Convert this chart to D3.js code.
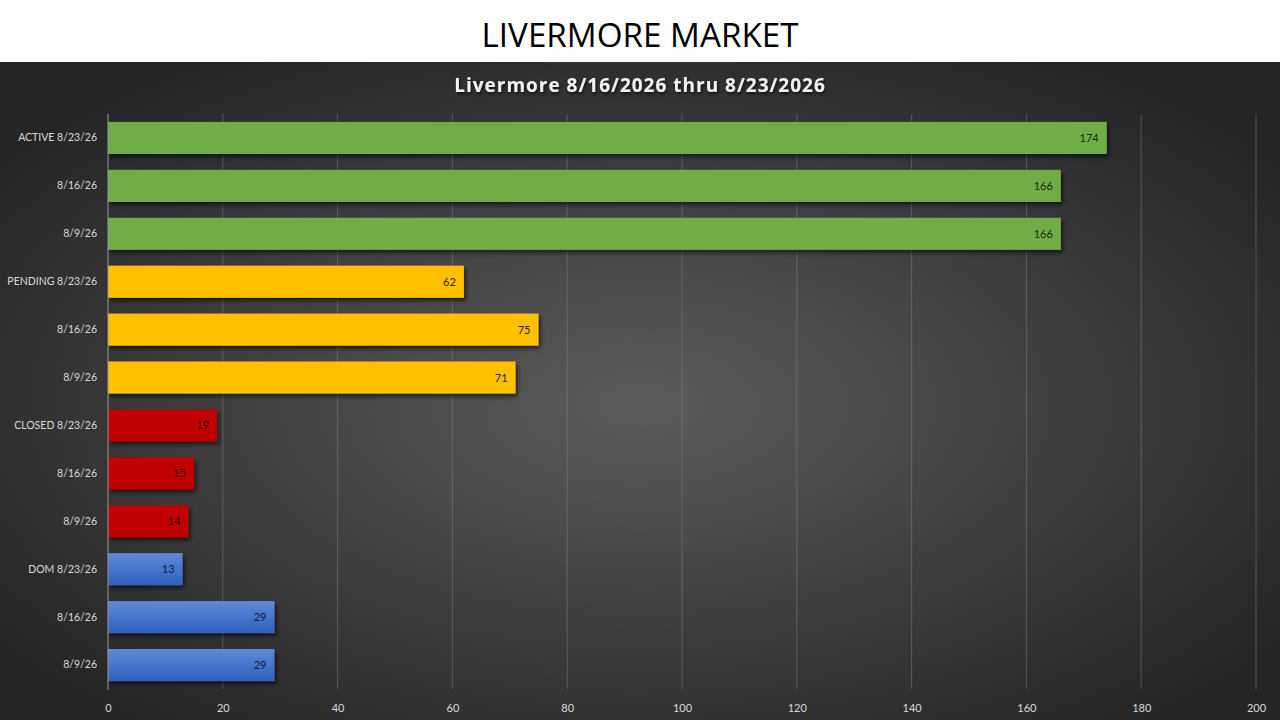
<!DOCTYPE html>
<html><head><meta charset="utf-8">
<script src="https://cdn.jsdelivr.net/npm/d3@7"></script>
<style>body{margin:0;background:#fff;}svg{display:block;}</style>
</head><body>
<script>
const categories = ["ACTIVE 8/23/26","8/16/26","8/9/26","PENDING 8/23/26","8/16/26 ","8/9/26 ","CLOSED 8/23/26","8/16/26  ","8/9/26  ","DOM 8/23/26","8/16/26   ","8/9/26   "];
const values = [174,166,166,62,75,71,19,15,14,13,29,29];
const groups = ["active","active","active","pending","pending","pending","closed","closed","closed","dom","dom","dom"];
const tickValues = [0,20,40,60,80,100,120,140,160,180,200];
const pageTitle = "LIVERMORE MARKET";
const chartTitle = "Livermore 8/16/2026 thru 8/23/2026";

const W=1280,H=720;
const colors={active:"#70AD47",pending:"#FFC000",closed:"#C00000",dom:"url(#blueGrad)"};
const labelColors={active:"#1b2a12",pending:"#2b2100",closed:"#3d0000",dom:"#0d1b3d"};

const svg=d3.select("body").append("svg").attr("width",W).attr("height",H);
const defs=svg.append("defs");
const rg=defs.append("radialGradient").attr("id","bg").attr("cx","50%").attr("cy","52%").attr("r","62%");
rg.append("stop").attr("offset","0%").attr("stop-color","#5c5c5c");
rg.append("stop").attr("offset","100%").attr("stop-color","#252525");
const bg=defs.append("linearGradient").attr("id","blueGrad").attr("x1",0).attr("y1",0).attr("x2",0).attr("y2",1);
bg.append("stop").attr("offset","0%").attr("stop-color","#5f89d8");
bg.append("stop").attr("offset","100%").attr("stop-color","#2f60bf");
const f=defs.append("filter").attr("id","sh").attr("x","-5%").attr("y","-20%").attr("width","115%").attr("height","160%");
f.append("feDropShadow").attr("dx",2).attr("dy",3).attr("stdDeviation",2).attr("flood-color","#000").attr("flood-opacity",0.6);
const tf=defs.append("filter").attr("id","tsh").attr("x","-5%").attr("y","-30%").attr("width","110%").attr("height","160%");
tf.append("feDropShadow").attr("dx",1).attr("dy",2).attr("stdDeviation",1.5).attr("flood-color","#000").attr("flood-opacity",0.7);

// header
svg.append("rect").attr("x",0).attr("y",0).attr("width",W).attr("height",62).attr("fill","#fff");
svg.append("text").attr("x",640).attr("y",47).attr("text-anchor","middle")
  .attr("font-family","'Open Sans', sans-serif").attr("font-size",33).attr("fill","#000")
  .attr("textLength",317).attr("lengthAdjust","spacingAndGlyphs").text(pageTitle);
// chart bg
svg.append("rect").attr("x",0).attr("y",62).attr("width",W).attr("height",H-62).attr("fill","url(#bg)");
svg.append("text").attr("x",640).attr("y",92).attr("text-anchor","middle")
  .attr("font-family","'Open Sans', Lato, sans-serif").attr("font-weight","bold").attr("font-size",19)
  .attr("letter-spacing",1).attr("fill","#f2f2f2").attr("filter","url(#tsh)").text(chartTitle);

const x=d3.scaleLinear().domain([0,200]).range([108,1256]);
const y=d3.scaleBand().domain(categories).range([114,689]).paddingInner(0.33).paddingOuter(0.165);

// grid
svg.append("g").selectAll("line").data(tickValues.slice(1)).join("line")
  .attr("x1",d=>x(d)).attr("x2",d=>x(d)).attr("y1",114).attr("y2",689)
  .attr("stroke","#8a8a8a").attr("stroke-opacity",0.45).attr("stroke-width",1);

// bars
svg.append("g").selectAll("rect").data(values).join("rect")
  .attr("x",x(0)).attr("y",(d,i)=>y(categories[i])).attr("width",d=>x(d)-x(0))
  .attr("height",y.bandwidth()).attr("fill",(d,i)=>colors[groups[i]]).attr("filter","url(#sh)");

// axis line
svg.append("line").attr("x1",x(0)).attr("x2",x(0)).attr("y1",114).attr("y2",690).attr("stroke","#9a9a9a").attr("stroke-width",1);

// value labels
svg.append("g").selectAll("text").data(values).join("text")
  .attr("x",d=>x(d)-8).attr("y",(d,i)=>y(categories[i])+y.bandwidth()/2+4)
  .attr("text-anchor","end").attr("font-family","Lato, 'Open Sans', sans-serif").attr("font-size",11)
  .attr("fill",(d,i)=>labelColors[groups[i]]).text(d=>d);

// y axis labels
const yAxis=d3.axisLeft(y).tickSize(0).tickPadding(11).tickFormat(d=>d.trim());
const yg=svg.append("g").attr("transform",`translate(${x(0)},0)`).call(yAxis);
yg.select(".domain").remove();
yg.selectAll("text").attr("font-family","Lato, 'Open Sans', sans-serif").attr("font-size",10.5).attr("fill","#d9d9d9");

// x axis
const xAxis=d3.axisBottom(x).tickValues(tickValues).tickSize(0).tickPadding(10);
const xg=svg.append("g").attr("transform","translate(0,694)").call(xAxis);
xg.select(".domain").remove();
xg.selectAll("text").attr("font-family","Lato, 'Open Sans', sans-serif").attr("font-size",11).attr("fill","#d9d9d9");
</script>
</body></html>
